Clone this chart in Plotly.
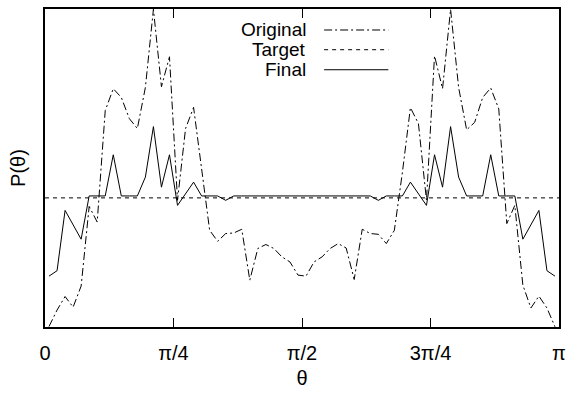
import numpy as np
import plotly.graph_objects as go

N = 64
theta = [(i + 0.5) * np.pi / N for i in range(N)]

original = [0.004, 0.131, 0.236, 0.154, 0.317, 0.934, 0.813, 1.676, 1.846, 1.778,
            1.614, 1.537, 1.856, 2.461, 1.861, 2.093, 0.981, 1.537, 1.701, 1.228,
            0.749, 0.664, 0.724, 0.728, 0.757, 0.363, 0.608, 0.639, 0.608, 0.543,
            0.504, 0.402, 0.394, 0.504, 0.543, 0.608, 0.646, 0.612, 0.368, 0.757,
            0.724, 0.718, 0.646, 0.749, 1.197, 1.699, 1.575, 0.981, 2.100, 1.846,
            2.461, 1.856, 1.527, 1.585, 1.778, 1.851, 1.689, 0.801, 0.942, 0.324,
            0.147, 0.239, 0.147, 0.002]

F = 1.015
final = [0.394, 0.436, 0.903, 0.792, 0.680, F, F, F, 1.334, F,
         F, F, 1.161, 1.552, 1.083, 1.334, 0.942, 1.035, 1.122, F,
         F, F, 0.981, F, F, F, F, F, F, F,
         F, F, F, F, F, F, F, F, F, F,
         F, 0.981, F, F, F, 1.122, 1.035, 0.942, 1.334, 1.083,
         1.552, 1.161, F, F, F, 1.334, F, F, F, 0.680,
         0.792, 0.903, 0.436, 0.394]

target_value = 1.0
target = [target_value] * 2
target_x = [0, np.pi]

tick_vals = [0, np.pi / 4, np.pi / 2, 3 * np.pi / 4, np.pi]
tick_text = ["0", "π/4", "π/2", "3π/4", "π"]
legend_names = ["Original", "Target", "Final"]

FONT = "Liberation Sans, Arial, sans-serif"
dash_orig = "8px,3px,2px,3px"
dash_target = "4px,4px"

fig = go.Figure()
fig.add_trace(go.Scatter(x=theta, y=original, mode="lines", name=legend_names[0],
                         line=dict(color="black", width=1, dash=dash_orig), showlegend=False))
fig.add_trace(go.Scatter(x=target_x, y=target, mode="lines", name=legend_names[1],
                         line=dict(color="black", width=1, dash=dash_target), showlegend=False))
fig.add_trace(go.Scatter(x=theta, y=final, mode="lines", name=legend_names[2],
                         line=dict(color="black", width=1), showlegend=False))

# manual legend: text right-aligned, sample on right
leg_y = [0.934, 0.872, 0.809]
dashes = [dash_orig, dash_target, "solid"]
for name, yy, d in zip(legend_names, leg_y, dashes):
    fig.add_annotation(x=0.5125, y=yy, xref="paper", yref="paper", text=name,
                       showarrow=False, xanchor="right", yanchor="middle",
                       font=dict(family=FONT, size=19, color="black"))
    fig.add_shape(type="line", xref="paper", yref="paper", x0=0.543, x1=0.668,
                  y0=yy, y1=yy, line=dict(color="black", width=1, dash=d))

fig.update_layout(
    width=573, height=397,
    margin=dict(l=45, r=7, t=8, b=70),
    paper_bgcolor="white", plot_bgcolor="white",
    font=dict(family=FONT, size=20, color="black"),
    xaxis=dict(range=[0, np.pi], tickvals=tick_vals, ticktext=tick_text,
               ticks="inside", ticklen=9, tickwidth=1, tickcolor="black",
               showline=True, linecolor="black", linewidth=2, mirror="ticks",
               showgrid=False, zeroline=False, ticklabelstandoff=7,
               title=dict(text="θ", standoff=8, font=dict(size=20))),
    yaxis=dict(range=[0, 2.463], showticklabels=False, ticks="",
               showline=True, linecolor="black", linewidth=2, mirror=True,
               showgrid=False, zeroline=False,
               title=dict(text="P(θ)", standoff=12, font=dict(size=20))),
)

fig.write_html("out.html")
